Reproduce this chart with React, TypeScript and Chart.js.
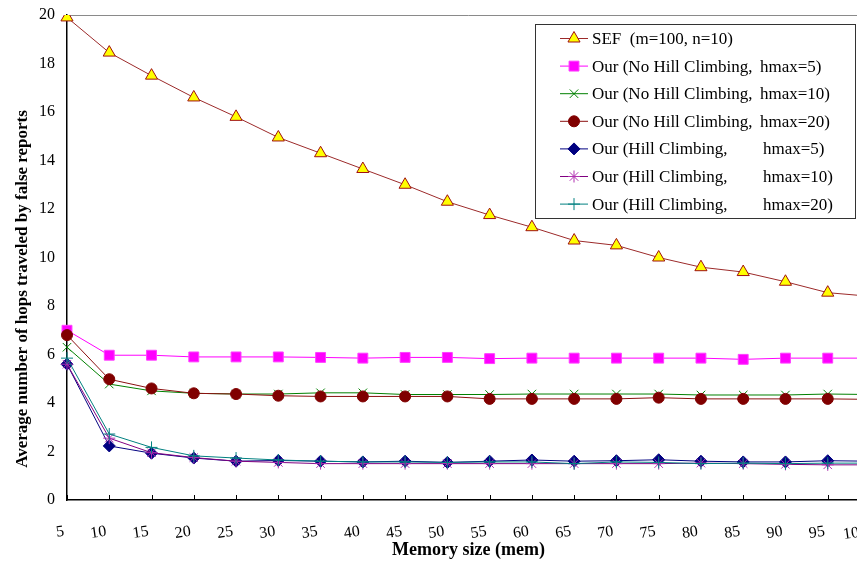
import React, { useEffect, useRef } from 'react';
import { Chart, registerables } from 'chart.js';
import { drawPoint } from 'chart.js/helpers';

Chart.register(...registerables);

// Memory size (mem) on the x axis
const memorySizes = [5, 10, 15, 20, 25, 30, 35, 40, 45, 50, 55, 60, 65, 70, 75, 80, 85, 90, 95, 100];
const xTickLabels = memorySizes.map(String);

// Average number of hops traveled by false reports
const sefHops = [19.9, 18.45, 17.5, 16.6, 15.8, 14.95, 14.3, 13.65, 13.0, 12.3, 11.75, 11.25, 10.7, 10.5, 10.0, 9.6, 9.4, 9.0, 8.55, 8.4];
const noHillH5 = [7.0, 5.97, 5.97, 5.9, 5.9, 5.9, 5.88, 5.85, 5.88, 5.88, 5.83, 5.85, 5.85, 5.85, 5.85, 5.85, 5.8, 5.85, 5.85, 5.85];
const noHillH10 = [6.3, 4.78, 4.5, 4.4, 4.37, 4.37, 4.42, 4.42, 4.35, 4.35, 4.35, 4.37, 4.37, 4.37, 4.37, 4.33, 4.33, 4.33, 4.37, 4.35];
const noHillH20 = [6.8, 4.98, 4.6, 4.4, 4.37, 4.3, 4.27, 4.27, 4.27, 4.27, 4.17, 4.17, 4.17, 4.17, 4.22, 4.17, 4.17, 4.17, 4.17, 4.15];
const hillH5 = [5.6, 2.23, 1.93, 1.73, 1.6, 1.63, 1.6, 1.57, 1.6, 1.55, 1.6, 1.65, 1.6, 1.62, 1.66, 1.6, 1.57, 1.57, 1.62, 1.6];
const hillH10 = [5.6, 2.55, 1.95, 1.75, 1.6, 1.55, 1.5, 1.5, 1.5, 1.5, 1.5, 1.5, 1.5, 1.5, 1.5, 1.52, 1.5, 1.47, 1.45, 1.45];
const hillH20 = [5.85, 2.72, 2.17, 1.82, 1.73, 1.65, 1.6, 1.57, 1.57, 1.55, 1.57, 1.57, 1.5, 1.57, 1.55, 1.5, 1.52, 1.5, 1.52, 1.52];

// Legend texts: leading part and the aligned "hmax" part
const seriesNames = [
  ['SEF  (m=100, n=10)', ''],
  ['Our (No Hill Climbing,', 'hmax=5)'],
  ['Our (No Hill Climbing,', 'hmax=10)'],
  ['Our (No Hill Climbing,', 'hmax=20)'],
  ['Our (Hill Climbing,', 'hmax=5)'],
  ['Our (Hill Climbing,', 'hmax=10)'],
  ['Our (Hill Climbing,', 'hmax=20)'],
];

const xTitle = 'Memory size (mem)';
const yTitle = 'Average number of hops traveled by false reports';

const SERIF = "'Liberation Serif', 'Times New Roman', serif";

type SeriesStyle = {
  data: number[];
  line: string;
  fill: string;
  edge: string;
  pointStyle: string;
  radius: number;
};

const seriesStyles: SeriesStyle[] = [
  { data: sefHops, line: '#9c2a2a', fill: '#ffff00', edge: '#a01010', pointStyle: 'triangle', radius: 7 },
  { data: noHillH5, line: '#ff00ff', fill: '#ff00ff', edge: '#ff40ff', pointStyle: 'rect', radius: 7 },
  { data: noHillH10, line: '#008000', fill: '#008000', edge: '#008000', pointStyle: 'crossRot', radius: 6 },
  { data: noHillH20, line: '#8b1010', fill: '#800000', edge: '#800000', pointStyle: 'circle', radius: 5.5 },
  { data: hillH5, line: '#000080', fill: '#000080', edge: '#000080', pointStyle: 'rectRot', radius: 6 },
  { data: hillH10, line: '#800080', fill: '#800080', edge: '#b030b0', pointStyle: 'star', radius: 6 },
  { data: hillH20, line: '#008080', fill: '#008080', edge: '#008080', pointStyle: 'cross', radius: 6 },
];

// Inward x tick marks, axis titles and the boxed legend
const decorations = {
  id: 'decorations',
  afterDraw(chart: any) {
    const { ctx, chartArea, scales } = chart;
    const xs = scales.x;
    ctx.save();

    // tick marks pointing into the plot
    ctx.strokeStyle = '#000';
    ctx.lineWidth = 1;
    xs.ticks.forEach((_t: any, i: number) => {
      const x = Math.round(xs.getPixelForTick(i)) + 0.5;
      ctx.beginPath();
      ctx.moveTo(x, chartArea.bottom - 5);
      ctx.lineTo(x, chartArea.bottom);
      ctx.stroke();
    });

    // axis titles
    ctx.fillStyle = '#000';
    ctx.textAlign = 'center';
    ctx.textBaseline = 'alphabetic';
    ctx.font = `bold 18px ${SERIF}`;
    ctx.fillText(xTitle, (chartArea.left + chartArea.right) / 2, 555);

    ctx.font = `bold 17px ${SERIF}`;
    ctx.save();
    ctx.translate(27, 289);
    ctx.rotate(-Math.PI / 2);
    ctx.fillText(yTitle, 0, 0);
    ctx.restore();

    // legend box
    const box = { left: 535, top: 24, right: 855, bottom: 218 };
    ctx.fillStyle = '#fff';
    ctx.fillRect(box.left, box.top, box.right - box.left, box.bottom - box.top);
    ctx.strokeStyle = '#333';
    ctx.lineWidth = 1;
    ctx.strokeRect(box.left + 0.5, box.top + 0.5, box.right - box.left, box.bottom - box.top);

    const rowTop = 38.5;
    const rowGap = 27.6;
    ctx.font = `17px ${SERIF}`;
    ctx.textBaseline = 'middle';
    ctx.textAlign = 'left';
    seriesStyles.forEach((s, i) => {
      const y = rowTop + i * rowGap;
      ctx.strokeStyle = s.line;
      ctx.lineWidth = 1;
      ctx.beginPath();
      ctx.moveTo(560, y);
      ctx.lineTo(588, y);
      ctx.stroke();

      ctx.fillStyle = s.fill;
      ctx.strokeStyle = s.edge;
      drawPoint(ctx, { pointStyle: s.pointStyle as any, radius: s.radius, rotation: 0, borderWidth: 1 }, 574, y);

      ctx.fillStyle = '#000';
      const [head, tail] = seriesNames[i];
      ctx.fillText(head, 592, y + 1);
      if (tail) ctx.fillText(tail, i < 4 ? 760 : 763, y + 1);
    });

    ctx.restore();
  },
};

export default function App() {
  const canvasRef = useRef<HTMLCanvasElement | null>(null);

  useEffect(() => {
    const canvas = canvasRef.current;
    if (!canvas) return;

    const chart = new Chart(canvas, {
      type: 'line',
      data: {
        labels: xTickLabels,
        datasets: seriesStyles.map((s, i) => ({
          label: seriesNames[i].join(' '),
          data: s.data,
          borderColor: s.line,
          backgroundColor: s.fill,
          borderWidth: 1,
          pointStyle: s.pointStyle as any,
          pointRadius: s.radius,
          pointBackgroundColor: s.fill,
          pointBorderColor: s.edge,
          pointBorderWidth: 1,
          fill: false,
          tension: 0,
          order: 7 - i,
        })),
      },
      options: {
        animation: false,
        responsive: false,
        maintainAspectRatio: false,
        layout: { padding: { top: 15, right: 10, left: 0, bottom: 0 } },
        plugins: {
          legend: { display: false },
          tooltip: { enabled: false },
        },
        scales: {
          x: {
            type: 'category',
            offset: false,
            grid: { display: false, drawTicks: false },
            border: { display: true, color: '#000', width: 1.5 },
            ticks: {
              autoSkip: false,
              minRotation: 8,
              maxRotation: 8,
              padding: 22,
              labelOffset: -3,
              color: '#000',
              font: { family: SERIF, size: 16 },
            },
            afterFit: (scale: any) => {
              scale.height = 63;
              scale.paddingLeft = 0;
              scale.paddingRight = 0;
            },
          },
          y: {
            min: 0,
            max: 20,
            ticks: {
              stepSize: 2,
              padding: 12,
              color: '#000',
              font: { family: SERIF, size: 16 },
            },
            grid: {
              drawTicks: false,
              color: (c: any) => (c.tick && c.tick.value === 20 ? '#8a8a8a' : 'rgba(0,0,0,0)'),
            },
            border: { display: true, color: '#000', width: 1.5 },
            afterFit: (scale: any) => {
              scale.width = 67;
              scale.paddingTop = 0;
              scale.paddingBottom = 0;
            },
          },
        },
      },
      plugins: [decorations],
    });

    return () => chart.destroy();
  }, []);

  return (
    <div
      style={{
        position: 'fixed',
        left: 0,
        top: 0,
        width: 857,
        height: 563,
        overflow: 'hidden',
        background: '#fff',
      }}
    >
      <canvas ref={canvasRef} width={880} height={563} style={{ display: 'block' }} />
    </div>
  );
}
